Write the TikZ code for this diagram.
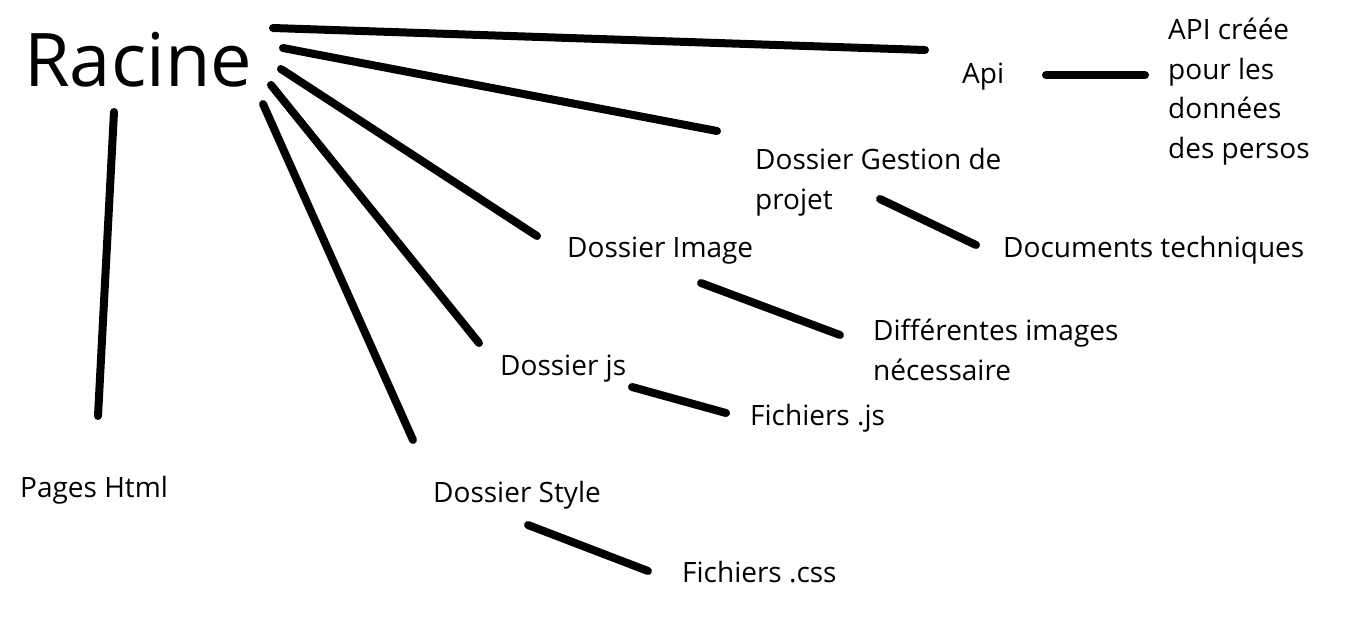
\documentclass[tikz,border=0pt]{standalone}
\usepackage{fontspec}
\setmainfont{Open Sans}

\tikzset{
  branch/.style={line width=8pt,line cap=round},
  leaf/.style={anchor=base west,inner sep=0pt,align=left,font=\fontsize{28}{39.5}\selectfont},
}

\begin{document}
\begin{tikzpicture}[x=1pt,y=-1pt]
\useasboundingbox (0,0) rectangle (1350,619);
% texts (multi-line ones sit on their last line)
\node[leaf,font=\fontsize{74}{80}\selectfont] (racine) at (24,86) {Racine};
\node[leaf] (api) at (962,83) {Api};
\node[leaf] (apitxt) at (1168,158) {API créée\\pour les\\données\\des persos};
\node[leaf] (gestion) at (755,209) {Dossier Gestion de\\projet};
\node[leaf] (docs) at (1003,257) {Documents techniques};
\node[leaf] (image) at (567,257) {Dossier Image};
\node[leaf] (images) at (873,380) {Différentes images\\nécessaire};
\node[leaf] (js) at (500,375) {Dossier js};
\node[leaf] (fjs) at (750,425) {Fichiers .js};
\node[leaf] (html) at (20,497) {Pages Html};
\node[leaf] (style) at (433,502) {Dossier Style};
\node[leaf] (fcss) at (682,582) {Fichiers .css};
% line ends
\coordinate (r1) at (273,28);   \coordinate (a1) at (925,50);
\coordinate (r2) at (283,48);   \coordinate (g1) at (717,131);
\coordinate (r3) at (281,69);   \coordinate (i1) at (537,236);
\coordinate (r4) at (271,85);   \coordinate (j1) at (479,343);
\coordinate (r5) at (263,104);  \coordinate (s1) at (413,440);
\coordinate (r6) at (114,112);  \coordinate (h1) at (98,416);
\coordinate (a2) at (1046,75);  \coordinate (t1) at (1145,75);
\coordinate (g2) at (880,199);  \coordinate (d1) at (976,245);
\coordinate (i2) at (701,283);  \coordinate (m1) at (840,335);
\coordinate (j2) at (632,387);  \coordinate (f1) at (726,413);
\coordinate (s2) at (528,525);  \coordinate (c1) at (648,571);
% lines
\foreach \a/\b in {r1/a1,r2/g1,r3/i1,r4/j1,r5/s1,r6/h1,a2/t1,g2/d1,i2/m1,j2/f1,s2/c1}
    \draw[branch] (\a) -- (\b);
\end{tikzpicture}
\end{document}
